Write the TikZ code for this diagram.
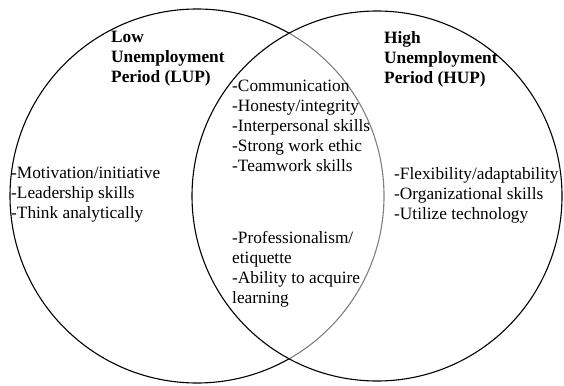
\documentclass[tikz,border=0pt]{standalone}
\usepackage{fontspec}
\setmainfont{Liberation Serif}
\tikzset{
	skills/.style={anchor=north west, inner sep=0pt, align=left, font=\fontsize{17.3}{20}\selectfont},
	period/.style={skills, font=\fontsize{17.3}{20}\selectfont\bfseries}
}
\begin{document}
\begin{tikzpicture}[x=1pt,y=-1pt]
	\useasboundingbox (0,0) rectangle (564,385);
	% the two circles
	\draw[line width=1.1pt] (197,196) circle (187);
	\fill[white] (377,196) circle (185);
	\begin{scope}
		\clip (377,196) circle (185);
		\draw[gray, line width=1.1pt] (197,196) circle (187);
	\end{scope}
	\draw[line width=1.1pt] (377,196) circle (185);
	% headings
	\node[period] (lup) at (111,31) {Low\\Unemployment\\Period (LUP)};
	\node[period] (hup) at (384,31) {High\\Unemployment\\Period (HUP)};
	% skills
	\node[skills] (lupskills) at (11,167) {-Motivation/initiative\\-Leadership skills\\-Think analytically};
	\node[skills] (common) at (232,80) {-Communication\\-Honesty/integrity\\-Interpersonal skills\\-Strong work ethic\\-Teamwork skills};
	\node[skills] (commonb) at (232,231) {-Professionalism/\\etiquette\\-Ability to acquire\\learning};
	\node[skills] (hupskills) at (394,167) {-Flexibility/adaptability\\-Organizational skills\\-Utilize technology};
\end{tikzpicture}
\end{document}
